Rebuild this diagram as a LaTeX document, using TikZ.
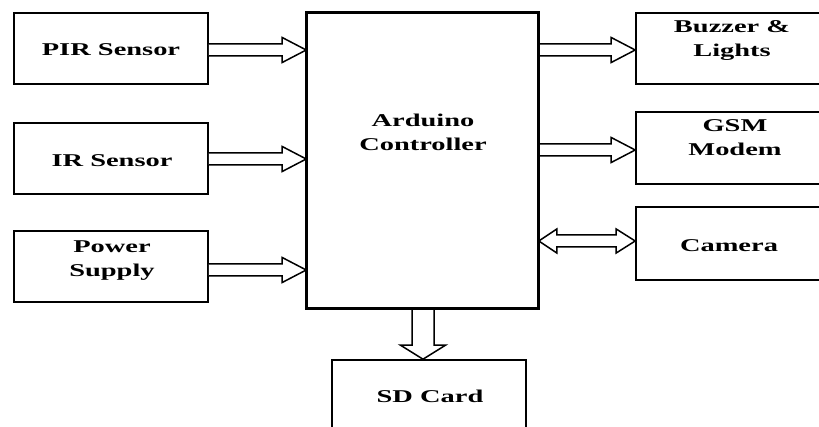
\documentclass[tikz,border=0pt]{standalone}
\usepackage{fontspec}
\setmainfont{Liberation Serif}
\usetikzlibrary{calc}
\newcommand\wide[1]{\scalebox{1.58}[1]{\renewcommand\arraystretch{1}\begin{tabular}{@{}c@{}}#1\end{tabular}}}
\tikzset{
  box/.style={draw=black, line width=1.6pt, rectangle, minimum width=194pt, minimum height=71pt, inner sep=0pt},
  txt/.style={font=\fontsize{18}{24}\selectfont\bfseries, inner sep=0pt},
  blk/.style={draw=black, line width=1.5pt, fill=white, line join=miter}
}
% right-pointing block arrow: #1 start (box side), #2 tip, #3 head length
\newcommand\rarrow[3]{\draw[blk] ($(#1)+(0,6)$) -- ($(#2)+(-#3,6)$) -- ($(#2)+(-#3,12.5)$) -- (#2) -- ($(#2)+(-#3,-12.5)$) -- ($(#2)+(-#3,-6)$) -- ($(#1)+(0,-6)$);}
\begin{document}
\begin{tikzpicture}[x=1pt,y=-1pt]
\useasboundingbox (0,0) rectangle (819,427);
\clip (0,0) rectangle (819,427);
% boxes
\node[box] (pir) at (111,48.5) {};
\node[box] (ir)  at (111,158.5) {};
\node[box] (pwr) at (111,266.5) {};
\node[box, minimum width=231pt, minimum height=295pt] (main) at (422.5,160.5) {};
\node[box] (buz) at (733,48.5) {};
\node[box, minimum height=72pt] (gsm) at (733,148) {};
\node[box, minimum height=73pt] (cam) at (733,243.5) {};
\node[box, minimum height=72pt] (sd)  at (429,396) {};
% texts
\node[txt] (tpir) at ($(pir.center)+(0,2.5)$) {\wide{PIR Sensor}};
\node[txt] (tir)  at ($(ir.center)+(1,3)$) {\wide{IR Sensor}};
\node[txt] (tpwr) at ($(pwr.center)+(1,-7)$) {\wide{Power\\Supply}};
\node[txt] (tmain) at (423,134) {\wide{Arduino\\Controller}};
\node[txt] (tbuz) at (732,40) {\wide{Buzzer \&\\Lights}};
\node[txt] (tgsm) at (735,139) {\wide{GSM\\Modem}};
\node[txt] (tcam) at (729,247) {\wide{Camera}};
\node[txt] (tsd)  at (430,398) {\wide{SD Card}};
% arrow coordinates
\coordinate (a1s) at (pir.east |- 0,50);  \coordinate (a1t) at (main.west |- 0,50);
\coordinate (a2s) at (ir.east |- 0,159);  \coordinate (a2t) at (main.west |- 0,159);
\coordinate (a3s) at (pwr.east |- 0,270); \coordinate (a3t) at (main.west |- 0,270);
\coordinate (b1s) at (main.east |- 0,50);  \coordinate (b1t) at (buz.west |- 0,50);
\coordinate (b2s) at (main.east |- 0,150); \coordinate (b2t) at (gsm.west |- 0,150);
\coordinate (c1) at (main.east |- 0,241); \coordinate (c2) at (cam.west |- 0,241);
\coordinate (d1) at (main.south -| 423,0); \coordinate (d2) at (sd.north -| 423,0);
\rarrow{a1s}{a1t}{24}
\rarrow{a2s}{a2t}{24}
\rarrow{a3s}{a3t}{24}
\rarrow{b1s}{b1t}{24}
\rarrow{b2s}{b2t}{24}
% double arrow to camera
\draw[blk] (c1) -- ($(c1)+(18,-12)$) -- ($(c1)+(18,-6)$) -- ($(c2)+(-19,-6)$) -- ($(c2)+(-19,-12)$) -- (c2) -- ($(c2)+(-19,12)$) -- ($(c2)+(-19,6)$) -- ($(c1)+(18,6)$) -- ($(c1)+(18,12)$) -- cycle;
% down arrow to SD card
\draw[blk] ($(d1)+(-11,0)$) -- ($(d2)+(-11,-14)$) -- ($(d2)+(-22.5,-14)$) -- (d2) -- ($(d2)+(22.5,-14)$) -- ($(d2)+(11,-14)$) -- ($(d1)+(11,0)$);
% redraw box borders over arrow tips
\draw[line width=1.6pt] (main.north west) rectangle (main.south east);
\end{tikzpicture}
\end{document}
